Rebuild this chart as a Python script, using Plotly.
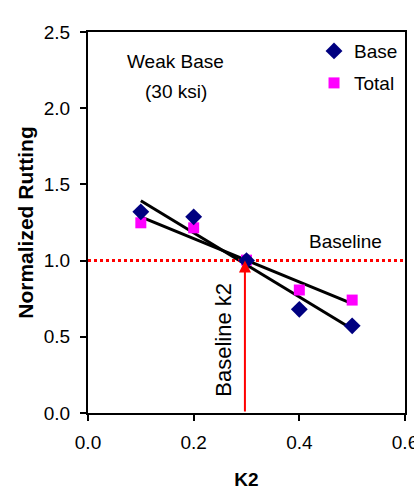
import numpy as np
import plotly.graph_objects as go

k2 = [0.1, 0.2, 0.3, 0.4, 0.5]
base = [1.32, 1.287, 1.0, 0.68, 0.572]
total = [1.248, 1.215, 1.003, 0.807, 0.741]
baseline_y = 1.0
baseline_k2 = 0.297
xticks = [0.0, 0.2, 0.4, 0.6]
yticks = [0.0, 0.5, 1.0, 1.5, 2.0, 2.5]

FONT = "Liberation Sans, Arial, sans-serif"
FS = 19

fig = go.Figure()

# least-squares trend lines
for ys in (base, total):
    m, c = np.polyfit(k2, ys, 1)
    xs = [k2[0], k2[-1]]
    fig.add_trace(go.Scatter(x=xs, y=[m * x + c for x in xs], mode="lines",
                             line=dict(color="black", width=3), showlegend=False,
                             hoverinfo="skip"))

# baseline dotted line
fig.add_trace(go.Scatter(x=[0.0, 0.6], y=[baseline_y, baseline_y], mode="lines",
                         line=dict(color="#ff0000", width=3, dash="dot"),
                         showlegend=False, hoverinfo="skip"))

fig.add_trace(go.Scatter(x=k2, y=total, mode="markers", name="Total", legend="legend2",
                         marker=dict(symbol="square", size=11, color="#ff00ff")))
fig.add_trace(go.Scatter(x=k2, y=base, mode="markers", name="Base", legend="legend",
                         marker=dict(symbol="diamond", size=13, color="#000080")))

# vertical arrow at baseline k2
fig.add_annotation(x=baseline_k2, y=baseline_y, ax=baseline_k2, ay=0.0,
                   xref="x", yref="y", axref="x", ayref="y", text="",
                   showarrow=True, arrowhead=2, arrowsize=1.2, arrowwidth=2,
                   arrowcolor="#ff0000")

fig.add_annotation(x=0.255, y=0.479, xref="x", yref="y", text="Baseline k2",
                   showarrow=False, textangle=-90,
                   font=dict(family=FONT, size=22, color="black"))
fig.add_annotation(x=0.4876, y=1.123, xref="x", yref="y", text="Baseline",
                   showarrow=False, font=dict(family=FONT, size=FS, color="black"))
fig.add_annotation(x=0.166, y=2.304, xref="x", yref="y", text="Weak Base",
                   showarrow=False, font=dict(family=FONT, size=FS, color="black"))
fig.add_annotation(x=0.166, y=2.107, xref="x", yref="y", text="(30 ksi)",
                   showarrow=False, font=dict(family=FONT, size=FS, color="black"))

leg_common = dict(xanchor="left", yanchor="middle", bgcolor="rgba(0,0,0,0)",
                  font=dict(family=FONT, size=FS, color="black"), itemwidth=30,
                  borderwidth=0)

fig.update_layout(
    width=414, height=490,
    margin=dict(l=88, r=9, t=32, b=77),
    paper_bgcolor="white", plot_bgcolor="white",
    font=dict(family=FONT, size=FS, color="black"),
    legend=dict(x=0.713, y=0.950, **leg_common),
    legend2=dict(x=0.713, y=0.866, **leg_common),
    xaxis=dict(range=[0, 0.6], tickvals=xticks, ticktext=[f"{v:.1f}" for v in xticks],
               showgrid=False, zeroline=False, showline=True, mirror=True,
               linecolor="black", linewidth=2, ticks="outside", ticklen=6,
               tickwidth=2, tickcolor="black", ticklabelstandoff=5,
               ticklabeloverflow="allow", automargin=False,
               title=dict(text="<b>K2</b>", font=dict(size=FS), standoff=21)),
    yaxis=dict(range=[0, 2.5], tickvals=yticks, ticktext=[f"{v:.1f}" for v in yticks],
               showgrid=False, zeroline=False, showline=True, mirror=True,
               linecolor="black", linewidth=2, ticks="outside", ticklen=6,
               tickwidth=2, tickcolor="black", ticklabelstandoff=6,
               ticklabeloverflow="allow", automargin=False,
               title=dict(text="<b>Normalized Rutting</b>", font=dict(size=21), standoff=4)),
)

fig.write_html("out.html", config={"displayModeBar": False},
               post_script="document.body.style.margin='0';")
